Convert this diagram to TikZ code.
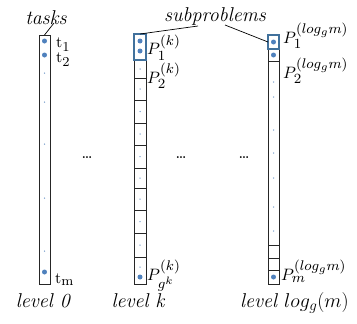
\RequirePackage{fix-cm}
\documentclass[tikz,border=0pt]{standalone}
\DeclareMathSizes{10}{10}{8.5}{6.5}
\DeclareMathSizes{20}{20}{15}{11}
\definecolor{hlblue}{RGB}{65,113,156}
\definecolor{dotblue}{RGB}{79,129,189}
\newcommand{\biglab}[1]{\scalebox{1.65}{$#1$}}
\newcommand{\tl}[1]{\scalebox{1.6}{$#1$}}
\begin{document}
\begin{tikzpicture}[x=1pt,y=-1pt,
  colbox/.style={draw=black!85, line width=0.9pt, inner sep=0pt, outer sep=0pt},
  cellline/.style={draw=black!85, line width=0.9pt},
  hlbox/.style={draw=hlblue, line width=1.8pt, inner sep=0pt, outer sep=0pt},
  bigdot/.style={circle, fill=dotblue, inner sep=0pt, minimum size=5pt},
  smalldot/.style={circle, fill=dotblue!75, inner sep=0pt, minimum size=1.5pt},
  lbl/.style={font=\fontsize{20}{24}\selectfont\itshape, inner sep=0pt, anchor=base},
  plab/.style={inner sep=0pt, anchor=base west},
  tlab/.style={inner sep=0pt, anchor=base west},
  ell/.style={font=\fontsize{13}{15}\selectfont\bfseries, inner sep=0pt},
  conn/.style={draw=black, line width=0.7pt}]
\useasboundingbox (0,0) rectangle (357,324);

% ---- level 0 column
\node[colbox, minimum width=11pt, minimum height=249pt] (c0) at (44.5,159.5) {};
\foreach \y in {41,55,272} \node[bigdot] at (44.5,\y) {};
\foreach \y in {73,102,144,198,251} \node[smalldot] at (44.5,\y) {};

% ---- level k column
\node[colbox, minimum width=12pt, minimum height=250pt] (ck) at (140,159) {};
\foreach \y in {60,78,100,123,145,168,188,210,233,257} \draw[cellline] (134,\y) -- (146,\y);
\node[hlbox, minimum width=12pt, minimum height=26pt] (hk) at (140,47) {};
\foreach \y in {41,51,277} \node[bigdot] at (140,\y) {};
\foreach \y in {69,89,111.5,134,156.5,178,199,221.5,245,267} \node[smalldot] at (140,\y) {};

% ---- level log column
\node[colbox, minimum width=11pt, minimum height=249pt] (cl) at (273.5,159.5) {};
\foreach \y in {49,61,245,258,270} \draw[cellline] (268,\y) -- (279,\y);
\node[hlbox, minimum width=11pt, minimum height=14pt] (hl) at (273.5,42) {};
\foreach \y in {42,55,277} \node[bigdot] at (273.5,\y) {};
\foreach \y in {82,97,130,153,178,207,231} \node[smalldot] at (273.5,\y) {};

% ---- labels
\node[tlab] (t1) at (56,48) {\tl{\mathrm{t}_1}};
\node[tlab] (t2) at (56,63) {\tl{\mathrm{t}_2}};
\node[tlab] (tm) at (55,283) {\tl{\mathrm{t}_\mathrm{m}}};

\node[plab] (pk1) at (147,55) {\biglab{P_1^{(k)}}};
\node[plab] (pk2) at (147,83) {\biglab{P_2^{(k)}}};
\node[plab] (pkg) at (147,280) {\biglab{P_{g^k}^{(k)}}};

\node[plab] (pl1) at (283,43) {\biglab{P_1^{(log_g m)}}};
\node[plab] (pl2) at (283,78) {\biglab{P_2^{(log_g m)}}};
\node[plab] (plm) at (281,280) {\biglab{P_m^{(log_g m)}}};

\node[lbl] (lv0) at (43,307) {level 0};
\node[lbl] (lvk) at (138,307) {level k};
\node[lbl, anchor=base west] (lvl) at (240,307) {level $log_g(m)$};

\node[lbl] (tasks) at (46,24) {tasks};
\node[lbl] (sub) at (215,22) {subproblems};

\node[ell] (e1) at (87,158) {\dots};
\node[ell] (e2) at (181,158) {\dots};
\node[ell] (e3) at (244,158) {\dots};

% ---- connectors
\coordinate (ta) at (54,23);
\coordinate (sa) at (198,26);
\coordinate (sb) at (225,25);
\draw[conn] (ta) -- (c0.north);
\draw[conn] (sa) -- (hk.north);
\draw[conn] (sb) -- (hl.west);
\end{tikzpicture}
\end{document}
